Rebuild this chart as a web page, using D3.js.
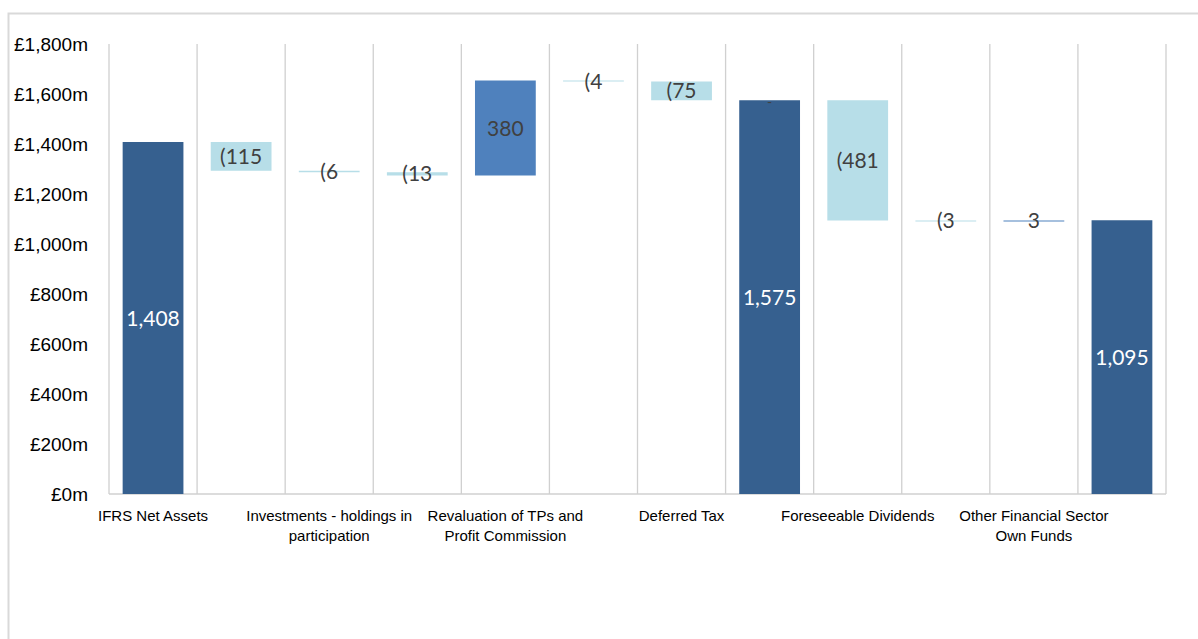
<!DOCTYPE html>
<html lang="en">
<head>
    <meta charset="UTF-8">
    <title>IFRS Net Assets to Own Funds</title>
    <script src="https://d3js.org/d3.v7.min.js"></script>
    <style>
        body { margin: 0; background: #fff; }
        svg { display: block; font-family: Lato, "Open Sans", sans-serif; }
        .grid line { stroke: #d0d0d0; stroke-width: 1.3; }
        .y-axis text { font-size: 19px; fill: #000; }
        .x-axis text { font-size: 15px; fill: #000; }
        .bar-label { font-size: 21px; }
    </style>
</head>
<body>
    <svg width="1198" height="639"></svg>

    <script>
        // data
        const categories = ["IFRS Net Assets", "", "Investments - holdings in participation", "",
            "Revaluation of TPs and Profit Commission", "", "Deferred Tax", "",
            "Foreseeable Dividends", "", "Other Financial Sector Own Funds", ""];
        const values = [1408, -115, -6, -13, 380, -4, -75, 1575, -481, -3, 3, 1095];
        const kinds = ["total", "change", "change", "change", "change", "change", "change",
            "total", "change", "change", "change", "total"];
        const yTicks = [0, 200, 400, 600, 800, 1000, 1200, 1400, 1600, 1800];

        const colors = { total: "#36608f", up: "#4f81bd", down: "#b7dee8" };

        // running totals for the waterfall
        let running = 0;
        const bars = values.map((v, i) => {
            let start, end;
            if (kinds[i] === "total") { start = 0; end = v; running = v; }
            else { start = running; end = running + v; running = end; }
            return { i: i, value: v, kind: kinds[i], lo: Math.min(start, end), hi: Math.max(start, end) };
        });

        const plot = { left: 109, right: 1166, top: 44, bottom: 494 };

        const svg = d3.select("svg");

        // chart area border
        svg.append("rect")
            .attr("x", 8.5).attr("y", 13.5)
            .attr("width", 1300).attr("height", 800)
            .attr("fill", "none")
            .attr("stroke", "#d9d9d9")
            .attr("stroke-width", 2);

        const xCat = d3.scaleBand()
            .domain(d3.range(categories.length))
            .range([plot.left, plot.right]);

        const xBar = d3.scaleBand()
            .domain(d3.range(categories.length))
            .range([plot.left, plot.right])
            .paddingInner(0.31)
            .paddingOuter(0.155);

        const y = d3.scaleLinear()
            .domain([0, 1800])
            .range([plot.bottom, plot.top]);

        // vertical gridlines at category boundaries
        const bounds = d3.range(categories.length).map(i => xCat(i)).concat([plot.right]);
        svg.append("g")
            .attr("class", "grid")
            .selectAll("line")
            .data(bounds)
            .enter().append("line")
            .attr("x1", d => d).attr("x2", d => d)
            .attr("y1", y(1800)).attr("y2", y(0));

        // baseline
        svg.append("line")
            .attr("x1", plot.left).attr("x2", plot.right)
            .attr("y1", y(0)).attr("y2", y(0))
            .attr("stroke", "#d0d0d0")
            .attr("stroke-width", 1.5);

        // bars
        svg.append("g")
            .selectAll("rect")
            .data(bars)
            .enter().append("rect")
            .attr("x", d => xBar(d.i))
            .attr("width", xBar.bandwidth())
            .attr("y", d => y(d.hi))
            .attr("height", d => Math.max(y(d.lo) - y(d.hi), 1))
            .attr("fill", d => d.kind === "total" ? colors.total : (d.value < 0 ? colors.down : colors.up));

        // data labels
        const fmt = d3.format(",");
        svg.append("g")
            .selectAll("text")
            .data(bars)
            .enter().append("text")
            .attr("class", "bar-label")
            .attr("x", d => xBar(d.i) + xBar.bandwidth() / 2)
            .attr("y", d => y((d.lo + d.hi) / 2))
            .attr("dy", "0.36em")
            .attr("text-anchor", "middle")
            .attr("fill", d => d.kind === "total" ? "#fff" : "#404040")
            .text(d => d.kind === "total" ? fmt(d.value) : (d.value < 0 ? "(" + Math.abs(d.value) : fmt(d.value)));

        // small dash at the top of the second total
        svg.append("text")
            .attr("x", xBar(7) + xBar.bandwidth() / 2)
            .attr("y", y(values[7]))
            .attr("dy", "0.5em")
            .attr("text-anchor", "middle")
            .attr("fill", "#404040")
            .style("font-size", "14px")
            .text("-");

        // y axis
        svg.append("g")
            .attr("class", "y-axis")
            .attr("transform", "translate(" + plot.left + ",0)")
            .call(d3.axisLeft(y).tickValues(yTicks).tickSize(0).tickPadding(21)
                .tickFormat(d => "£" + fmt(d) + "m"))
            .call(g => g.select(".domain").remove());

        // x axis
        svg.append("g")
            .attr("class", "x-axis")
            .attr("transform", "translate(0," + plot.bottom + ")")
            .call(d3.axisBottom(xCat).tickSize(0).tickPadding(16).tickFormat(i => categories[i]))
            .call(g => g.select(".domain").remove())
            .selectAll(".tick text")
            .call(wrap, 180);

        function wrap(text, width) {
            text.each(function() {
                const t = d3.select(this);
                const words = t.text().split(/\s+/).filter(w => w);
                const yy = t.attr("y");
                const dy = parseFloat(t.attr("dy")) || 0;
                t.text(null);
                let line = [];
                let lineNo = 0;
                let tspan = t.append("tspan").attr("x", 0).attr("y", yy).attr("dy", dy + "em");
                words.forEach(w => {
                    line.push(w);
                    tspan.text(line.join(" "));
                    if (tspan.node().getComputedTextLength() > width && line.length > 1) {
                        line.pop();
                        tspan.text(line.join(" "));
                        line = [w];
                        lineNo++;
                        tspan = t.append("tspan").attr("x", 0).attr("y", yy)
                            .attr("dy", (dy + lineNo * 1.33) + "em").text(w);
                    }
                });
            });
        }
    </script>
</body>
</html>
